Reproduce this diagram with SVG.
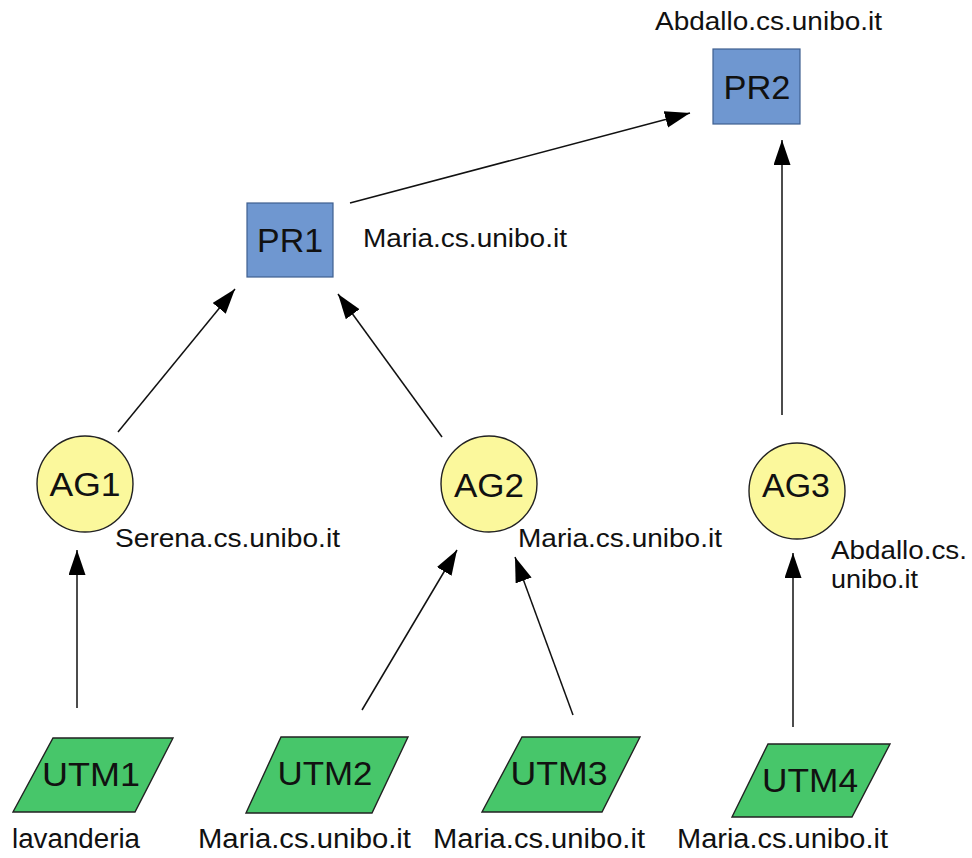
<svg xmlns="http://www.w3.org/2000/svg" width="972" height="858" viewBox="0 0 972 858">
  <style>
    text { font-family: "Liberation Sans", Arial, sans-serif; fill: #111; }
    .name { font-size: 33px; text-anchor: middle; }
    .host { font-size: 26px; }
    .hostb { font-size: 27px; }
    .pr { fill: #6f97d0; stroke: #3f5f8f; stroke-width: 1.2; }
    .ag { fill: #fbf89c; stroke: #222; stroke-width: 1.4; }
    .utm { fill: #47c66a; stroke: #222; stroke-width: 1.4; }
    .edge { fill: none; stroke: #111; stroke-width: 1.5; marker-end: url(#arrow); }
  </style>
  <defs>
    <marker id="arrow" markerUnits="userSpaceOnUse" markerWidth="26" markerHeight="18" refX="25" refY="8.5" orient="auto">
      <path d="M0,0 L25,8.5 L0,17 z" fill="#000"/>
    </marker>
  </defs>
  <rect width="972" height="858" fill="#fff"/>

  <g id="connectors">
    <line class="edge" x1="350" y1="203" x2="690" y2="113"/>
    <line class="edge" x1="782" y1="415" x2="782" y2="140"/>
    <line class="edge" x1="118" y1="432" x2="235" y2="289"/>
    <line class="edge" x1="442" y1="437" x2="338" y2="294"/>
    <line class="edge" x1="77" y1="708" x2="77" y2="550"/>
    <line class="edge" x1="362" y1="710" x2="457" y2="550"/>
    <line class="edge" x1="573" y1="715" x2="515" y2="557"/>
    <line class="edge" x1="793" y1="727" x2="793" y2="553"/>
  </g>

  <g id="PR2">
    <rect class="pr" x="713" y="49" width="87" height="75"/>
    <text class="name" x="757" y="99" textLength="67" lengthAdjust="spacingAndGlyphs">PR2</text>
    <text class="host" x="655" y="30" textLength="227" lengthAdjust="spacingAndGlyphs">Abdallo.cs.unibo.it</text>
  </g>

  <g id="PR1">
    <rect class="pr" x="247" y="203" width="86" height="74"/>
    <text class="name" x="290" y="252" textLength="66" lengthAdjust="spacingAndGlyphs">PR1</text>
    <text class="host" x="363" y="247" textLength="204" lengthAdjust="spacingAndGlyphs">Maria.cs.unibo.it</text>
  </g>

  <g id="AG1">
    <circle class="ag" cx="85" cy="484" r="48"/>
    <text class="name" x="85" y="496" textLength="71" lengthAdjust="spacingAndGlyphs">AG1</text>
    <text class="host" x="115" y="547" textLength="225" lengthAdjust="spacingAndGlyphs">Serena.cs.unibo.it</text>
  </g>

  <g id="AG2">
    <circle class="ag" cx="489" cy="484" r="48"/>
    <text class="name" x="489" y="497" textLength="70" lengthAdjust="spacingAndGlyphs">AG2</text>
    <text class="host" x="518" y="547" textLength="204" lengthAdjust="spacingAndGlyphs">Maria.cs.unibo.it</text>
  </g>

  <g id="AG3">
    <circle class="ag" cx="797" cy="491" r="48"/>
    <text class="name" x="796" y="497" textLength="68" lengthAdjust="spacingAndGlyphs">AG3</text>
    <text class="host" x="831" y="559" textLength="136" lengthAdjust="spacingAndGlyphs">Abdallo.cs.</text>
    <text class="host" x="831" y="588" textLength="87" lengthAdjust="spacingAndGlyphs">unibo.it</text>
  </g>

  <g id="UTM1">
    <polygon class="utm" points="53,738 173,738 135,812 13,812"/>
    <text class="name" x="91" y="786" textLength="98" lengthAdjust="spacingAndGlyphs">UTM1</text>
    <text class="hostb" x="12" y="848" textLength="128" lengthAdjust="spacingAndGlyphs">lavanderia</text>
  </g>

  <g id="UTM2">
    <polygon class="utm" points="281,737 408,737 372,813 246,813"/>
    <text class="name" x="325" y="785" textLength="95" lengthAdjust="spacingAndGlyphs">UTM2</text>
    <text class="hostb" x="198" y="848" textLength="213" lengthAdjust="spacingAndGlyphs">Maria.cs.unibo.it</text>
  </g>

  <g id="UTM3">
    <polygon class="utm" points="522,737 640,737 602,812 482,812"/>
    <text class="name" x="559" y="785" textLength="97" lengthAdjust="spacingAndGlyphs">UTM3</text>
    <text class="hostb" x="433" y="848" textLength="212" lengthAdjust="spacingAndGlyphs">Maria.cs.unibo.it</text>
  </g>

  <g id="UTM4">
    <polygon class="utm" points="768,744 890,744 852,817 732,817"/>
    <text class="name" x="810" y="792" textLength="96" lengthAdjust="spacingAndGlyphs">UTM4</text>
    <text class="hostb" x="677" y="848" textLength="211" lengthAdjust="spacingAndGlyphs">Maria.cs.unibo.it</text>
  </g>
</svg>
